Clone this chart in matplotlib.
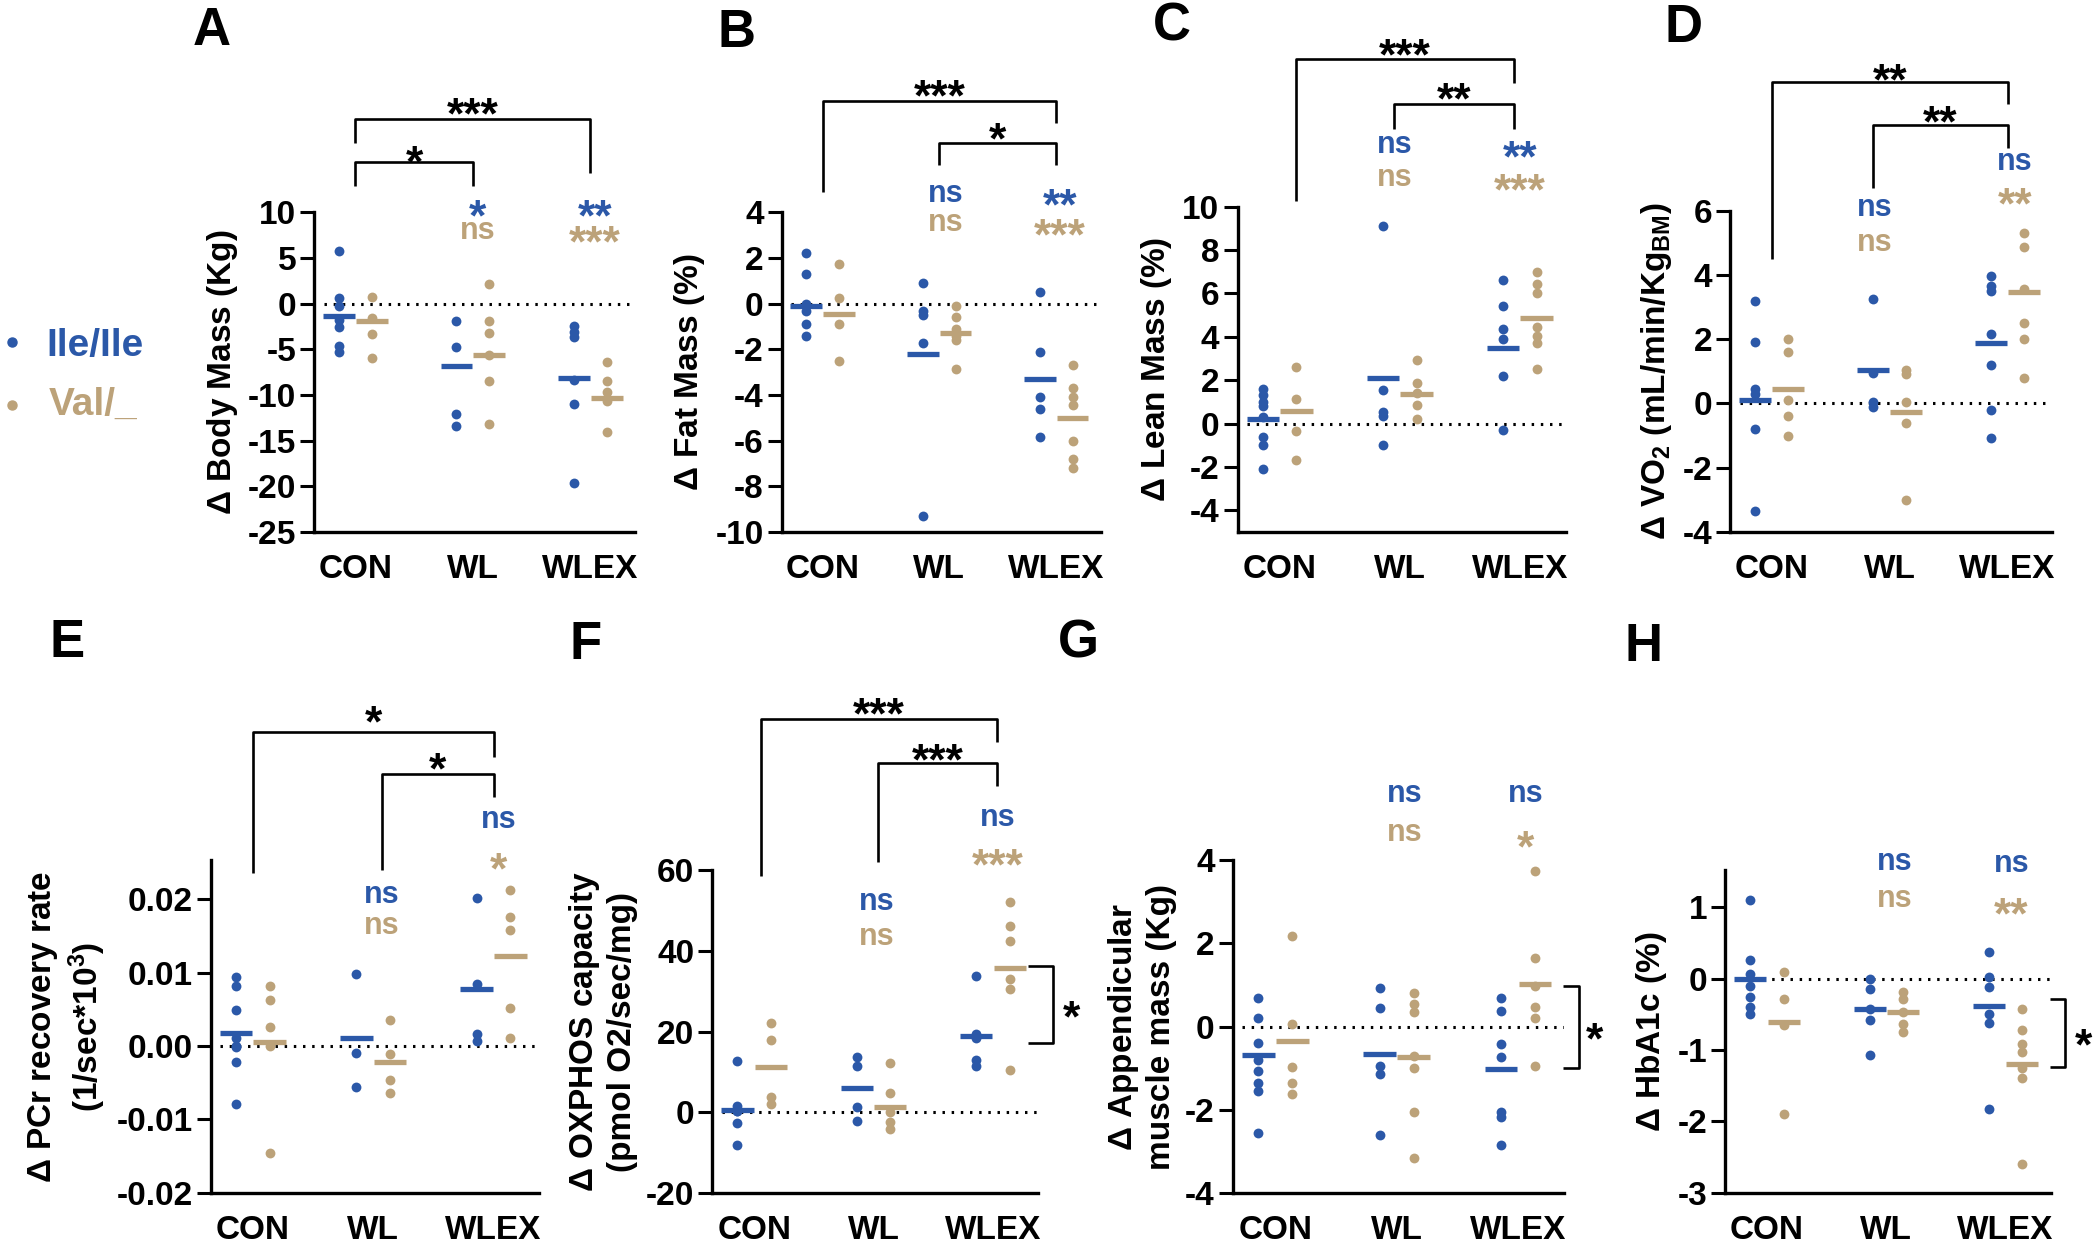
import matplotlib
matplotlib.use("Agg")
import matplotlib.pyplot as plt
from matplotlib.lines import Line2D
from matplotlib.ticker import FormatStrFormatter

plt.rcParams['font.family'] = ['Liberation Sans', 'DejaVu Sans']
plt.rcParams['font.weight'] = 'bold'
plt.rcParams['axes.labelweight'] = 'bold'
plt.rcParams['axes.unicode_minus'] = False
plt.rcParams['mathtext.fontset'] = 'custom'
plt.rcParams['mathtext.rm'] = 'Liberation Sans:bold'
plt.rcParams['mathtext.it'] = 'Liberation Sans:bold'
plt.rcParams['mathtext.bf'] = 'Liberation Sans:bold'
plt.rcParams['mathtext.sf'] = 'Liberation Sans'

BLUE = '#2B58A8'
TAN = '#BCA279'

groups = ["CON", "WL", "WLEX"]

# ---- data ----
# A: body mass (Kg)
A_blue = [[5.8, 0.6, -0.3, -1.8, -2.5, -4.6, -5.3], [-1.9, -4.7, -12.1, -13.4], [-2.4, -3.1, -3.7, -8.3, -11.0, -19.6]]
A_tan = [[0.7, -1.6, -3.3, -5.9], [2.2, -1.9, -3.2, -5.6, -8.5, -13.2], [-6.4, -8.5, -9.7, -10.6, -14.1]]
A_blue_mean = [-1.4, -6.8, -8.1]
A_tan_mean = [-1.9, -5.6, -10.3]
# B: fat mass (%)
B_blue = [[2.2, 1.3, 0.0, -0.3, -0.9, -1.4], [0.9, -0.3, -0.5, -1.7, -9.3], [0.5, -2.1, -4.1, -4.6, -5.85]]
B_tan = [[1.75, 0.25, -0.9, -2.5], [-0.1, -0.6, -1.1, -1.4, -1.6, -2.85], [-2.7, -3.7, -4.1, -4.45, -6.0, -6.8, -7.2]]
B_blue_mean = [-0.1, -2.2, -3.3]
B_tan_mean = [-0.45, -1.3, -5.0]
# C: lean mass (%)
C_blue = [[1.6, 1.3, 1.0, 0.8, 0.3, -0.6, -1.0, -2.1], [9.1, 1.55, 0.55, 0.35, -1.0], [6.6, 5.4, 4.35, 3.9, 2.2, -0.3]]
C_tan = [[2.6, 1.15, -0.35, -1.7], [2.95, 1.85, 1.4, 0.85, 0.2], [7.0, 6.45, 6.0, 4.45, 4.05, 3.7, 2.5]]
C_blue_mean = [0.23, 2.1, 3.5]
C_tan_mean = [0.57, 1.35, 4.85]
# D: VO2
D_blue = [[3.2, 1.9, 0.45, 0.3, -0.8, -3.35], [3.25, 0.95, 0.05, -0.1], [3.95, 3.65, 3.5, 2.15, 1.2, -0.2, -1.07]]
D_tan = [[2.0, 1.6, 0.1, -0.4, -1.0], [1.05, 0.9, 0.05, -0.6, -3.0], [5.3, 4.85, 3.55, 2.5, 2.0, 0.8]]
D_blue_mean = [0.12, 1.05, 1.87]
D_tan_mean = [0.45, -0.27, 3.45]
# E: PCr recovery rate
E_blue = [[0.0094, 0.0081, 0.0049, 0.0011, 0.0, -0.0001, -0.0022, -0.0079], [0.0098, -0.001, -0.0056], [0.0202, 0.0084, 0.0016, 0.0007]]
E_tan = [[0.0081, 0.0062, 0.0026, 0.0, -0.0146], [0.0035, -0.0011, -0.0047, -0.0064], [0.0213, 0.0175, 0.0158, 0.0052, 0.0011]]
E_blue_mean = [0.0017, 0.0011, 0.0078]
E_tan_mean = [0.0006, -0.0022, 0.0122]
# F: OXPHOS capacity
F_blue = [[12.7, 1.5, 0.3, 0.2, -2.8, -8.2], [13.8, 11.5, 1.2, -2.2], [33.8, 19.5, 18.5, 13.0, 11.5]]
F_tan = [[22.0, 18.0, 3.7, 2.0], [12.3, 4.8, 0.0, -2.5, -4.2], [52.0, 46.2, 42.5, 33.0, 30.5, 10.5]]
F_blue_mean = [0.5, 6.0, 19.0]
F_tan_mean = [11.3, 1.2, 35.8]
# G: appendicular muscle mass (Kg)
G_blue = [[0.69, 0.2, -0.39, -0.8, -1.08, -1.35, -1.55, -2.57], [0.93, 0.44, -0.96, -1.13, -2.6], [0.69, 0.37, -0.41, -0.74, -2.06, -2.18, -2.84]]
G_tan = [[2.18, 0.05, -0.98, -1.37, -1.62], [0.81, 0.54, 0.34, -0.7, -1.0, -2.06, -3.17], [3.75, 1.64, 0.98, 0.47, 0.2, -0.95]]
G_blue_mean = [-0.69, -0.66, -1.01]
G_tan_mean = [-0.34, -0.74, 1.03]
# H: HbA1c (%)
H_blue = [[1.1, 0.26, 0.06, -0.1, -0.25, -0.4, -0.49], [0.0, -0.14, -0.42, -0.58, -1.07], [0.37, 0.03, -0.12, -0.49, -0.62, -1.82]]
H_tan = [[0.1, -0.29, -0.65, -1.9], [-0.19, -0.29, -0.47, -0.63, -0.75], [-0.42, -0.72, -0.92, -1.03, -1.25, -1.39, -2.6]]
H_blue_mean = [-0.01, -0.43, -0.38]
H_tan_mean = [-0.6, -0.47, -1.19]

# significance vs baseline, per group (blue row, tan row)
A_sig_blue = ["", "*", "**"]
A_sig_tan = ["", "ns", "***"]
B_sig_blue = ["", "ns", "**"]
B_sig_tan = ["", "ns", "***"]
C_sig_blue = ["", "ns", "**"]
C_sig_tan = ["", "ns", "***"]
D_sig_blue = ["", "ns", "ns"]
D_sig_tan = ["", "ns", "**"]
E_sig_blue = ["", "ns", "ns"]
E_sig_tan = ["", "ns", "*"]
F_sig_blue = ["", "ns", "ns"]
F_sig_tan = ["", "ns", "***"]
G_sig_blue = ["", "ns", "ns"]
G_sig_tan = ["", "ns", "*"]
H_sig_blue = ["", "ns", "ns"]
H_sig_tan = ["", "ns", "**"]

DELTA = r"$\mathsf{\Delta}$ "

fig = plt.figure(figsize=(21, 12.53), dpi=100)


def sig(ax, x, y, text, color):
    # y is the visual centre of the glyphs
    if text.startswith('*'):
        fs = 32
        off = -0.58 * fs
    else:
        fs = 22
        off = -0.26 * fs
    ax.annotate(text, (x, y), xytext=(0, off), textcoords='offset points',
                ha='center', va='baseline', fontsize=fs, color=color,
                fontweight='bold', annotation_clip=False)


def bracket(ax, x0, x1, y, yb0, yb1, text, ty):
    ax.plot([x0, x0, x1, x1], [yb0, y, y, yb1], color='k', lw=1.9,
            clip_on=False, solid_capstyle='butt')
    sig(ax, (x0 + x1) / 2, ty, text, 'k')


def side(ax, x0, x1, ytop, ybot, tx, ty):
    ax.plot([x0, x1, x1, x0], [ytop, ytop, ybot, ybot], color='k', lw=1.9,
            clip_on=False, solid_capstyle='butt')
    sig(ax, tx, ty, '*', 'k')


def panel(rect, blue, tan, bmean, tmean, ylim, yticks, ylabel):
    ax = fig.add_axes(rect)
    ax.plot([-0.27, 2.38], [0, 0], color='k', lw=2.2, ls=(0, (0.8, 2.2)),
            zorder=1)
    for i in range(3):
        xb = i - 0.14
        xt = i + 0.14
        ax.scatter([xb] * len(blue[i]), blue[i], s=50, color=BLUE,
                   linewidths=0, zorder=3, clip_on=False)
        ax.scatter([xt] * len(tan[i]), tan[i], s=50, color=TAN,
                   linewidths=0, zorder=3, clip_on=False)
        ax.plot([xb - 0.135, xb + 0.135], [bmean[i], bmean[i]], color=BLUE,
                lw=3.8, solid_capstyle='butt', zorder=4)
        ax.plot([xt - 0.135, xt + 0.135], [tmean[i], tmean[i]], color=TAN,
                lw=3.8, solid_capstyle='butt', zorder=4)
    ax.set_xlim(-0.35, 2.38)
    ax.set_ylim(*ylim)
    ax.set_yticks(yticks)
    ax.set_xticks(range(3))
    ax.set_xticklabels(groups, fontsize=24, fontweight='bold')
    ax.tick_params(axis='x', length=0, pad=16)
    ax.tick_params(axis='y', length=10, width=2.2, labelsize=24, pad=3)
    for s in ('top', 'right'):
        ax.spines[s].set_visible(False)
    for s in ('left', 'bottom'):
        ax.spines[s].set_linewidth(2.4)
    ax.set_ylabel(DELTA + ylabel, fontsize=24, labelpad=6)
    return ax


def labels(ax, sb, st, xs, ysb, yst):
    for i in (1, 2):
        sig(ax, xs[i - 1], ysb[i - 1], sb[i], BLUE)
        sig(ax, xs[i - 1], yst[i - 1], st[i], TAN)


axA = panel([0.1497, 0.5754, 0.1526, 0.2551], A_blue, A_tan, A_blue_mean, A_tan_mean,
            (-25, 10), range(-25, 11, 5), "Body Mass (Kg)")
labels(axA, A_sig_blue, A_sig_tan, (1.04, 2.04), (10.9, 10.8), (8.0, 8.05))
bracket(axA, 0, 2, 20.2, 17.6, 14.3, "***", 22.0)
bracket(axA, 0, 1, 15.5, 12.9, 12.9, "*", 16.8)

axB = panel([0.3722, 0.5754, 0.1519, 0.2551], B_blue, B_tan, B_blue_mean, B_tan_mean,
            (-10, 4), range(-10, 5, 2), "Fat Mass (%)")
labels(axB, B_sig_blue, B_sig_tan, (1.05, 2.03), (4.8, 4.8), (3.55, 3.5))
bracket(axB, 0, 2, 8.9, 4.9, 7.9, "***", 9.6)
bracket(axB, 1, 2, 7.05, 6.07, 6.07, "*", 7.7)

axC = panel([0.5893, 0.5754, 0.1562, 0.2596], C_blue, C_tan, C_blue_mean, C_tan_mean,
            (-5, 10), range(-4, 11, 2), "Lean Mass (%)")
labels(axC, C_sig_blue, C_sig_tan, (0.96, 2.0), (12.85, 12.8), (11.3, 11.3))
bracket(axC, 0.14, 1.95, 16.8, 10.25, 15.7, "***", 17.5)
bracket(axC, 0.95, 1.95, 14.75, 13.6, 13.6, "**", 15.5)

axD = panel([0.8240, 0.5754, 0.1533, 0.2566], D_blue, D_tan, D_blue_mean, D_tan_mean,
            (-4, 6), range(-4, 7, 2), "VO$_2$ (mL/min/Kg$_{BM}$)")
labels(axD, D_sig_blue, D_sig_tan, (0.87, 2.06), (6.07, 7.5), (5.0, 6.55))
bracket(axD, 0, 2, 10.0, 4.5, 9.3, "**", 10.4)
bracket(axD, 0.86, 2, 8.67, 6.7, 7.95, "**", 9.1)

axE = panel([0.1003, 0.048, 0.1565, 0.2655], E_blue, E_tan, E_blue_mean, E_tan_mean,
            (-0.02, 0.0253), [-0.02, -0.01, 0, 0.01, 0.02],
            "PCr recovery rate\n(1/sec*10$^3$)")
axE.yaxis.set_major_formatter(FormatStrFormatter('%.2f'))
labels(axE, E_sig_blue, E_sig_tan, (1.07, 2.04), (0.0206, 0.0308), (0.0163, 0.0256))
bracket(axE, 0, 2, 0.0427, 0.0235, 0.0394, "*", 0.0456)
bracket(axE, 1.07, 2, 0.0371, 0.0239, 0.0339, "*", 0.0392)

axF = panel([0.3392, 0.048, 0.1553, 0.2575], F_blue, F_tan, F_blue_mean, F_tan_mean,
            (-20, 60), range(-20, 61, 20), "OXPHOS capacity\n(pmol O2/sec/mg)")
labels(axF, F_sig_blue, F_sig_tan, (1.03, 2.04), (52, 73), (43.5, 64))
bracket(axF, 0.06, 2.03, 97.5, 58.5, 91.7, "***", 101.5)
bracket(axF, 1.04, 2.03, 86.5, 62, 81, "***", 90.2)
side(axF, 2.29, 2.5, 36.3, 17.2, 2.66, 26.5)

axG = panel([0.5870, 0.048, 0.1578, 0.2655], G_blue, G_tan, G_blue_mean, G_tan_mean,
            (-4, 4), range(-4, 5, 2), "Appendicular\nmuscle mass (Kg)")
labels(axG, G_sig_blue, G_sig_tan, (1.07, 2.06), (5.6, 5.6), (4.65, 4.6))
side(axG, 2.375, 2.5, 0.98, -1.0, 2.63, -0.03)

axH = panel([0.8216, 0.048, 0.1550, 0.2575], H_blue, H_tan, H_blue_mean, H_tan_mean,
            (-3, 1.52), range(-3, 2, 1), "HbA1c (%)")
labels(axH, H_sig_blue, H_sig_tan, (1.07, 2.05), (1.63, 1.6), (1.12, 1.06))
side(axH, 2.37, 2.5, -0.28, -1.23, 2.65, -0.77)

# panel letters
for lab, x, y in [("A", 0.1008, 0.9756), ("B", 0.3505, 0.974), ("C", 0.558, 0.9786),
                  ("D", 0.8019, 0.9779), ("E", 0.0319, 0.4867), ("F", 0.2789, 0.4852),
                  ("G", 0.5137, 0.4868), ("H", 0.7827, 0.4836)]:
    fig.text(x, y, lab, fontsize=38, fontweight='bold', ha='center', va='center')

# genotype legend
fig.add_artist(Line2D([0.0056], [0.7273], transform=fig.transFigure, marker='o',
                      ms=6.5, color=BLUE, lw=0))
fig.text(0.0222, 0.7236, "Ile/Ile", color=BLUE, fontsize=28, fontweight='bold', va='center')
fig.add_artist(Line2D([0.0056], [0.677], transform=fig.transFigure, marker='o',
                      ms=6.5, color=TAN, lw=0))
fig.text(0.023, 0.6769, "Val/_", color=TAN, fontsize=28, fontweight='bold', va='center')

fig.savefig("out.png", dpi=100)
